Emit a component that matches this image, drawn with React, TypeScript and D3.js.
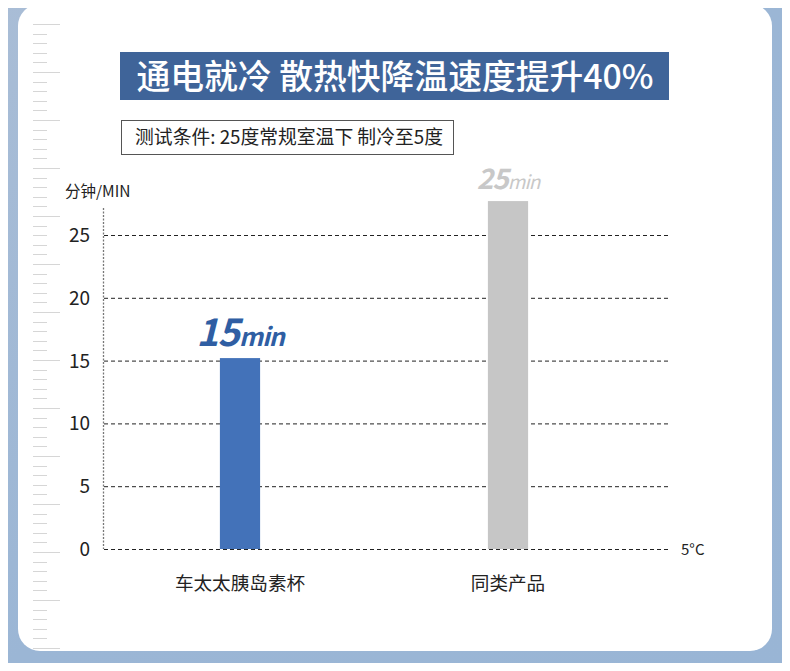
import React from 'react'
import * as d3 from 'd3'

const categories = ['车太太胰岛素杯', '同类产品']
const barValues = [15.2, 27.7]
const barLabels = ['15', '25']
const yTicks = [0, 5, 10, 15, 20, 25]

const W = 790
const H = 671
const FONT = '"Noto Sans CJK SC", "Noto Sans", sans-serif'

const App: React.FC = () => {
    const x = d3.scaleBand<string>().domain(categories).range([106, 642]).paddingInner(0.85).paddingOuter(0.425)
    const y = d3.scaleLinear().domain([0, 25]).range([549, 235])

    const barColors = ['#4372b9', '#c6c6c6']
    const labelColors = ['#2f5ea3', '#c8c8c8']
    const bigSizes = [38, 28]
    const smallSizes = [25, 19]

    // ruler ticks on the left edge
    const ruler = d3.range(0, 66)

    return (
        <div style={{ margin: -8 }}>
            <svg width={W} height={H} style={{ display: 'block', fontFamily: FONT }}>
                <defs>
                    <linearGradient id="bg" x1="0" y1="0" x2="1" y2="1">
                        <stop offset="0" stopColor="#a9bdd6" />
                        <stop offset="0.5" stopColor="#9bb6d5" />
                        <stop offset="1" stopColor="#99b5d5" />
                    </linearGradient>
                </defs>
                <rect width={W} height={H} fill="url(#bg)" />
                <rect x={18} y={4} width={754} height={647} rx={22} fill="#ffffff" />

                {ruler.map((i) => {
                    const yy = Math.round(24 + i * 9.6) + 0.5
                    const long = i % 5 === 0
                    return (
                        <line key={i} x1={33} x2={long ? 60 : 47} y1={yy} y2={yy} stroke="#d6d6d6" strokeWidth={1} />
                    )
                })}

                {/* title */}
                <rect x={120} y={52} width={549} height={48} fill="#3f6499" />
                <text x={395} y={89} textAnchor="middle" fill="#ffffff" fontSize={33.8} fontWeight={500}>
                    通电就冷 散热快降温速度提升40%
                </text>
                <rect x={121.5} y={120.5} width={332} height={34} fill="#ffffff" stroke="#555" strokeWidth={1} />
                <text x={289} y={144} textAnchor="middle" fill="#222" fontSize={18.8}>
                    测试条件: 25度常规室温下 制冷至5度
                </text>

                {/* axis title */}
                <text x={65} y={197} fill="#222" fontSize={15.5}>分钟/MIN</text>

                {/* y axis */}
                <line x1={103.5} x2={103.5} y1={208} y2={549} stroke="#777" strokeWidth={1.3} strokeDasharray="2,1.5" />
                {yTicks.map((t) => (
                    <g key={t}>
                        <line x1={104} x2={671} y1={y(t) + 0.5} y2={y(t) + 0.5} stroke="#222" strokeWidth={1} strokeDasharray="4,3" />
                        <text x={90} y={y(t) + 7} textAnchor="end" fill="#222" fontSize={19}>
                            {t}
                        </text>
                    </g>
                ))}
                <text x={681} y={555} fill="#222" fontSize={15}>5°C</text>

                {/* bars */}
                {categories.map((c, i) => {
                    const bx = x(c) ?? 0
                    const cx = bx + x.bandwidth() / 2
                    const top = y(barValues[i])
                    return (
                        <g key={c}>
                            <rect x={bx} y={top} width={x.bandwidth()} height={y(0) - top} fill={barColors[i]} />
                            <text
                                x={cx}
                                y={top - 12}
                                textAnchor="middle"
                                fill={labelColors[i]}
                                fontStyle="italic"
                                fontWeight="bold"
                                fontSize={bigSizes[i]}
                                letterSpacing={-1}
                            >
                                {barLabels[i]}
                                <tspan fontSize={smallSizes[i]} fontWeight={i === 0 ? 'bold' : 'normal'}>min</tspan>
                            </text>
                            <text x={cx} y={590} textAnchor="middle" fill="#222" fontSize={18.6}>
                                {c}
                            </text>
                        </g>
                    )
                })}
            </svg>
        </div>
    )
}

export default App
